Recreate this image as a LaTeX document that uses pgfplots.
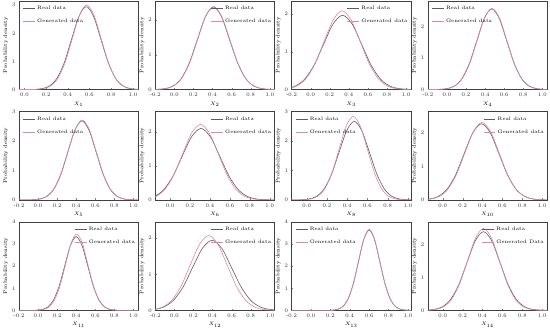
\documentclass[border=0pt]{standalone}
\usepackage{fontspec}
\usepackage{pgfplots}
\pgfplotsset{compat=1.18}
\usepgfplotslibrary{groupplots}
\definecolor{realc}{RGB}{100,86,106}
\definecolor{genc}{RGB}{222,138,156}
\newcommand{\sm}{\fontsize{5.5}{6.5}\selectfont}
\newcommand{\legfont}{\fontsize{5}{6}\selectfont}
\pgfplotsset{
  legTL/.style={legend style={at={(0.03,0.965)},anchor=north west}},
  legTR/.style={legend style={at={(0.99,0.965)},anchor=north east}},
  realp/.style={color=realc},
  genp/.style={color=genc},
}
\begin{document}
\begin{tikzpicture}
\begin{groupplot}[
  group style={group size=4 by 3, horizontal sep=17pt, vertical sep=22pt},
  scale only axis, width=120pt, height=89pt,
  ymin=0,
  xtick={-0.2,0,0.2,0.4,0.6,0.8,1.0},
  ytick={0,1,2,3,4},
  xticklabel style={/pgf/number format/.cd, fixed, fixed zerofill, precision=1},
  /pgf/number format/assume math mode=true,
  tick label style={font=\sm, color=black!80},
  label style={font=\sm},
  ylabel={Probability density},
  tick align=inside, xtick pos=bottom, ytick pos=left,
  major tick length=1.5pt,
  axis line style={black!75, line width=0.5pt},
  every axis plot/.append style={smooth, line width=0.6pt, no markers},
  legend style={draw=none, fill=none, font=\legfont, inner sep=0pt, row sep=4pt, cells={anchor=west}},
  legend image code/.code={\draw[#1] (0pt,0pt) -- (12pt,0pt);},
  xlabel style={yshift=2pt},
  ylabel style={yshift=-3pt},
]
% ---- X1
\nextgroupplot[xmin=-0.05, xmax=1.05, ymax=3.15, xlabel={$X_{1}$}, legTL]
\addplot[realp] coordinates {(-0.6,0)(0.030,0.001)(0.098,0.006)(0.165,0.033)(0.233,0.130)(0.300,0.399)(0.368,0.958)(0.435,1.789)(0.503,2.603)(0.570,2.950)(0.638,2.603)(0.705,1.789)(0.773,0.958)(0.840,0.399)(0.908,0.130)(0.975,0.033)(1.043,0.006)(1.110,0.001)(1.3,0)};
\addplot[genp] coordinates {(-0.6,0)(0.047,0.001)(0.113,0.007)(0.179,0.033)(0.245,0.132)(0.311,0.407)(0.377,0.977)(0.443,1.826)(0.509,2.656)(0.575,3.010)(0.641,2.656)(0.707,1.826)(0.773,0.977)(0.839,0.407)(0.905,0.132)(0.971,0.033)(1.037,0.007)(1.103,0.001)(1.3,0)};
\legend{Real data, Generated data}
% ---- X2
\nextgroupplot[xmin=-0.2, xmax=1.05, ymax=2.55, xlabel={$X_{2}$}, legTR]
\addplot[realp] coordinates {(-0.6,0)(-0.262,0.001)(-0.178,0.005)(-0.094,0.026)(-0.010,0.104)(0.074,0.322)(0.158,0.773)(0.242,1.443)(0.326,2.100)(0.410,2.380)(0.494,2.100)(0.578,1.443)(0.662,0.773)(0.746,0.322)(0.830,0.104)(0.914,0.026)(0.998,0.005)(1.082,0.001)(1.3,0)};
\addplot[genp] coordinates {(-0.6,0)(-0.256,0.001)(-0.173,0.005)(-0.089,0.027)(-0.006,0.105)(0.078,0.323)(0.162,0.776)(0.245,1.450)(0.329,2.109)(0.412,2.390)(0.496,2.109)(0.579,1.450)(0.663,0.776)(0.746,0.323)(0.830,0.105)(0.913,0.027)(0.997,0.005)(1.080,0.001)(1.3,0)};
\legend{Real data, Generated data}
% ---- X3
\nextgroupplot[xmin=-0.2, xmax=1.05, ymax=2.35, xlabel={$X_{3}$}, legTR]
\addplot[realp] coordinates {(-0.6,0)(-0.465,0.001)(-0.365,0.004)(-0.265,0.022)(-0.165,0.086)(-0.065,0.267)(0.035,0.640)(0.135,1.195)(0.235,1.739)(0.335,1.970)(0.435,1.739)(0.535,1.195)(0.635,0.640)(0.735,0.267)(0.835,0.086)(0.935,0.022)(1.035,0.004)(1.135,0.001)(1.3,0)};
\addplot[genp] coordinates {(-0.6,0)(-0.430,0.001)(-0.335,0.005)(-0.240,0.023)(-0.145,0.092)(-0.050,0.283)(0.045,0.679)(0.140,1.268)(0.235,1.844)(0.330,2.090)(0.425,1.844)(0.520,1.268)(0.615,0.679)(0.710,0.283)(0.805,0.092)(0.900,0.023)(0.995,0.005)(1.090,0.001)(1.3,0)};
\legend{Real data, Generated data}
% ---- X4
\nextgroupplot[xmin=-0.2, xmax=1.05, ymax=2.8, xlabel={$X_{4}$}, legTL]
\addplot[realp] coordinates {(-0.6,0)(-0.154,0.001)(-0.076,0.006)(0.002,0.028)(0.080,0.112)(0.158,0.345)(0.236,0.828)(0.314,1.547)(0.392,2.250)(0.470,2.550)(0.548,2.250)(0.626,1.547)(0.704,0.828)(0.782,0.345)(0.860,0.112)(0.938,0.028)(1.016,0.006)(1.094,0.001)(1.3,0)};
\addplot[genp] coordinates {(-0.6,0)(-0.148,0.001)(-0.071,0.006)(0.007,0.029)(0.085,0.113)(0.162,0.348)(0.240,0.834)(0.317,1.559)(0.395,2.268)(0.472,2.570)(0.550,2.268)(0.627,1.559)(0.705,0.834)(0.782,0.348)(0.860,0.113)(0.937,0.029)(1.015,0.006)(1.092,0.001)(1.3,0)};
\legend{Real data, Generated data}
% ---- X5
\nextgroupplot[xmin=-0.2, xmax=1.05, ymax=3.0, xlabel={$X_{5}$}, legTL]
\addplot[realp] coordinates {(-0.6,0)(-0.132,0.001)(-0.058,0.006)(0.016,0.030)(0.090,0.118)(0.164,0.363)(0.238,0.870)(0.312,1.625)(0.386,2.365)(0.460,2.680)(0.534,2.365)(0.608,1.625)(0.682,0.870)(0.756,0.363)(0.830,0.118)(0.904,0.030)(0.978,0.006)(1.052,0.001)(1.3,0)};
\addplot[genp] coordinates {(-0.6,0)(-0.126,0.001)(-0.053,0.006)(0.021,0.030)(0.095,0.119)(0.168,0.367)(0.242,0.880)(0.315,1.644)(0.389,2.392)(0.462,2.710)(0.536,2.392)(0.609,1.644)(0.683,0.880)(0.756,0.367)(0.830,0.119)(0.903,0.030)(0.977,0.006)(1.050,0.001)(1.3,0)};
\legend{Real data, Generated data}
% ---- X6
\nextgroupplot[xmin=-0.15, xmax=1.05, ymax=2.6, xlabel={$X_{6}$}, legTR]
\addplot[realp] coordinates {(-0.6,0)(-0.450,0.001)(-0.355,0.005)(-0.260,0.023)(-0.165,0.092)(-0.070,0.284)(0.025,0.682)(0.120,1.274)(0.215,1.853)(0.310,2.100)(0.405,1.853)(0.500,1.274)(0.595,0.682)(0.690,0.284)(0.785,0.092)(0.880,0.023)(0.975,0.005)(1.070,0.001)(1.3,0)};
\addplot[genp] coordinates {(-0.6,0)(-0.415,0.001)(-0.325,0.005)(-0.235,0.025)(-0.145,0.097)(-0.055,0.300)(0.035,0.721)(0.125,1.346)(0.215,1.959)(0.305,2.220)(0.395,1.959)(0.485,1.346)(0.575,0.721)(0.665,0.300)(0.755,0.097)(0.845,0.025)(0.935,0.005)(1.025,0.001)(1.3,0)};
\legend{Real data, Generated data}
% ---- X8
\nextgroupplot[xmin=-0.15, xmax=1.03, ymax=3.0, xlabel={$X_{8}$}, legTL]
\addplot[realp] coordinates {(-0.6,0)(-0.130,0.001)(-0.055,0.006)(0.020,0.030)(0.095,0.117)(0.170,0.360)(0.245,0.864)(0.320,1.613)(0.395,2.347)(0.470,2.660)(0.545,2.347)(0.620,1.613)(0.695,0.864)(0.770,0.360)(0.845,0.117)(0.920,0.030)(0.995,0.006)(1.070,0.001)(1.3,0)};
\addplot[genp] coordinates {(-0.6,0)(-0.100,0.001)(-0.030,0.006)(0.040,0.031)(0.110,0.124)(0.180,0.383)(0.250,0.919)(0.320,1.716)(0.390,2.497)(0.460,2.830)(0.530,2.497)(0.600,1.716)(0.670,0.919)(0.740,0.383)(0.810,0.124)(0.880,0.031)(0.950,0.006)(1.020,0.001)(1.3,0)};
\legend{Real data, Generated data}
% ---- X10
\nextgroupplot[xmin=-0.15, xmax=1.05, ymax=2.65, xlabel={$X_{10}$}, legTR]
\addplot[realp] coordinates {(-0.6,0)(-0.310,0.001)(-0.223,0.005)(-0.135,0.025)(-0.048,0.100)(0.040,0.308)(0.128,0.740)(0.215,1.383)(0.303,2.012)(0.390,2.280)(0.478,2.012)(0.565,1.383)(0.653,0.740)(0.740,0.308)(0.828,0.100)(0.915,0.025)(1.003,0.005)(1.090,0.001)(1.3,0)};
\addplot[genp] coordinates {(-0.6,0)(-0.293,0.001)(-0.207,0.005)(-0.121,0.026)(-0.035,0.102)(0.051,0.314)(0.137,0.753)(0.223,1.407)(0.309,2.047)(0.395,2.320)(0.481,2.047)(0.567,1.407)(0.653,0.753)(0.739,0.314)(0.825,0.102)(0.911,0.026)(0.997,0.005)(1.083,0.001)(1.3,0)};
\legend{Real data, Generated data}
% ---- X11
\nextgroupplot[xmin=-0.2, xmax=1.05, ymax=4.0, xlabel={$X_{11}$}, legTR]
\addplot[realp] coordinates {(-0.6,0)(-0.080,0.001)(-0.020,0.007)(0.040,0.037)(0.100,0.146)(0.160,0.451)(0.220,1.081)(0.280,2.020)(0.340,2.939)(0.400,3.330)(0.460,2.939)(0.520,2.020)(0.580,1.081)(0.640,0.451)(0.700,0.146)(0.760,0.037)(0.820,0.007)(0.880,0.001)(1.3,0)};
\addplot[genp] coordinates {(-0.6,0)(-0.059,0.001)(-0.001,0.008)(0.057,0.038)(0.115,0.151)(0.173,0.467)(0.231,1.120)(0.289,2.092)(0.347,3.045)(0.405,3.450)(0.463,3.045)(0.521,2.092)(0.579,1.120)(0.637,0.467)(0.695,0.151)(0.753,0.038)(0.811,0.008)(0.869,0.001)(1.3,0)};
\legend{Real data, Generated data}
% ---- X12
\nextgroupplot[xmin=-0.2, xmax=1.05, ymax=2.45, xlabel={$X_{12}$}, legTR]
\addplot[realp] coordinates {(-0.6,0)(-0.425,0.001)(-0.323,0.004)(-0.220,0.022)(-0.118,0.085)(-0.015,0.262)(0.088,0.630)(0.190,1.177)(0.293,1.712)(0.395,1.940)(0.498,1.712)(0.600,1.177)(0.703,0.630)(0.805,0.262)(0.908,0.085)(1.010,0.022)(1.113,0.004)(1.215,0.001)(1.3,0)};
\addplot[genp] coordinates {(-0.6,0)(-0.412,0.001)(-0.316,0.005)(-0.219,0.023)(-0.123,0.091)(-0.026,0.280)(0.071,0.672)(0.167,1.255)(0.264,1.827)(0.360,2.070)(0.457,1.827)(0.553,1.255)(0.650,0.672)(0.746,0.280)(0.843,0.091)(0.939,0.023)(1.036,0.005)(1.132,0.001)(1.3,0)};
\legend{Real data, Generated data}
% ---- X13
\nextgroupplot[xmin=-0.2, xmax=1.03, ymax=4.0, xlabel={$X_{13}$}, legTL]
\addplot[realp] coordinates {(-0.6,0)(0.160,0.001)(0.215,0.008)(0.270,0.040)(0.325,0.159)(0.380,0.491)(0.435,1.179)(0.490,2.202)(0.545,3.203)(0.600,3.630)(0.655,3.203)(0.710,2.202)(0.765,1.179)(0.820,0.491)(0.875,0.159)(0.930,0.040)(0.985,0.008)(1.040,0.001)(1.3,0)};
\addplot[genp] coordinates {(-0.6,0)(0.164,0.001)(0.219,0.008)(0.273,0.041)(0.328,0.161)(0.382,0.495)(0.437,1.188)(0.491,2.220)(0.546,3.230)(0.600,3.660)(0.655,3.230)(0.709,2.220)(0.764,1.188)(0.818,0.495)(0.873,0.161)(0.927,0.041)(0.982,0.008)(1.036,0.001)(1.3,0)};
\legend{Real data, Generated data}
% ---- X14
\nextgroupplot[xmin=-0.15, xmax=1.05, ymax=2.7, xlabel={$X_{14}$}, legTR]
\addplot[realp] coordinates {(-0.6,0)(-0.254,0.001)(-0.171,0.005)(-0.088,0.027)(-0.005,0.105)(0.078,0.325)(0.161,0.779)(0.244,1.456)(0.327,2.118)(0.410,2.400)(0.493,2.118)(0.576,1.456)(0.659,0.779)(0.742,0.325)(0.825,0.105)(0.908,0.027)(0.991,0.005)(1.074,0.001)(1.3,0)};
\addplot[genp] coordinates {(-0.6,0)(-0.230,0.001)(-0.150,0.006)(-0.070,0.028)(0.010,0.110)(0.090,0.338)(0.170,0.812)(0.250,1.516)(0.330,2.206)(0.410,2.500)(0.490,2.206)(0.570,1.516)(0.650,0.812)(0.730,0.338)(0.810,0.110)(0.890,0.028)(0.970,0.006)(1.050,0.001)(1.3,0)};
\legend{Real data, Generated Data}
\end{groupplot}
\end{tikzpicture}
\end{document}
